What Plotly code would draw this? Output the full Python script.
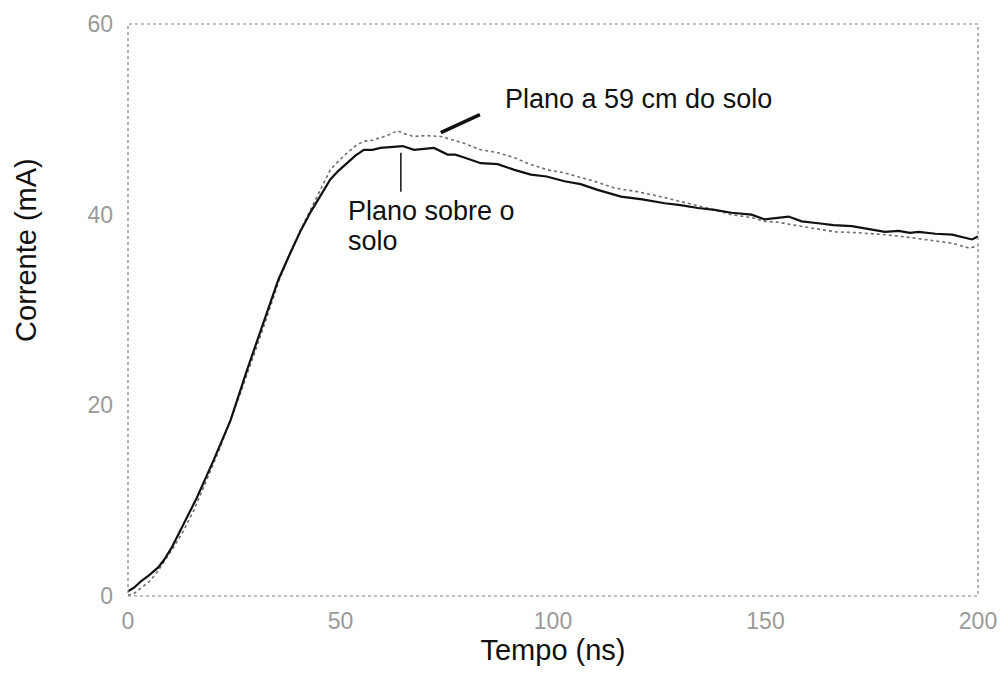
import plotly.graph_objects as go

# Plano sobre o solo (curva contínua)
t_sobre = [0, 1.5, 3.2, 5, 7.1, 8.5, 10.3, 13, 16.2, 20.1, 24.1, 28, 31.9, 35.4, 38, 40.5,
           43, 45.5, 47.6, 49.5, 51.6, 53.5, 55.5, 57.5, 59.4, 62, 64.6, 67.3, 69.5, 72,
           75.2, 77, 79.1, 83, 87, 90.9, 94.8, 98.5, 102.7, 106.5, 110.5, 116, 121, 126.3,
           130, 134.1, 138, 142, 146.7, 149.8, 155.4, 158.5, 162.4, 166, 170.3, 174, 178.1,
           181.3, 184, 186, 190, 193.9, 196.5, 198.6, 200]
i_sobre = [0.5, 0.9, 1.6, 2.2, 3.0, 3.8, 5.1, 7.5, 10.3, 14.2, 18.4, 23.7, 28.6, 33.2, 35.8,
           38.2, 40.3, 42.1, 43.7, 44.6, 45.4, 46.2, 46.8, 46.8, 47.0, 47.1, 47.2, 46.8, 46.9,
           47.0, 46.3, 46.3, 46.0, 45.4, 45.3, 44.7, 44.2, 44.0, 43.5, 43.2, 42.6, 41.9, 41.6,
           41.2, 41.0, 40.7, 40.5, 40.2, 40.0, 39.5, 39.8, 39.3, 39.1, 38.9, 38.8, 38.5, 38.2,
           38.3, 38.1, 38.2, 38.0, 37.9, 37.6, 37.4, 37.7]

# Plano a 59 cm do solo (curva pontilhada)
t_59 = [0, 1.2, 3, 5.2, 7, 9.1, 11, 13, 15.5, 17.8, 21.7, 26.4, 31.9, 35.4, 38, 40.5, 43,
        45.5, 47.6, 49.5, 51.6, 53.5, 55.4, 57.5, 59.4, 61.5, 63.4, 65, 67.2, 70, 73.6, 76,
        79, 83, 87, 90.8, 94.5, 98.8, 102.5, 106.6, 110.5, 114.4, 120, 126.2, 130, 134.2,
        138, 142, 146.7, 149.8, 153, 156.8, 161, 166.3, 172, 178.1, 184, 189.9, 194, 197.9, 200]
i_59 = [0.1, 0.2, 0.8, 1.6, 2.6, 4.0, 5.3, 6.8, 9.0, 11.4, 15.6, 21.2, 28.2, 32.9, 35.8, 38.3,
        40.6, 42.8, 44.7, 45.6, 46.5, 47.2, 47.7, 47.8, 48.1, 48.4, 48.8, 48.5, 48.2, 48.3,
        48.2, 47.9, 47.5, 46.8, 46.5, 46.0, 45.3, 44.7, 44.4, 43.9, 43.4, 42.8, 42.4, 41.8,
        41.4, 40.9, 40.5, 40.0, 39.7, 39.3, 39.2, 38.9, 38.6, 38.2, 38.1, 37.9, 37.6, 37.2,
        37.0, 36.5, 36.7]

x_ticks = [0, 50, 100, 150, 200]
y_ticks = [0, 20, 40, 60]

FONT = "Liberation Sans, Arial, sans-serif"
INK = "#111111"

fig = go.Figure()
fig.add_trace(go.Scatter(x=t_59, y=i_59, mode="lines",
                         line=dict(color="#6e6e6e", width=1.6, dash="dot"),
                         showlegend=False))
fig.add_trace(go.Scatter(x=t_sobre, y=i_sobre, mode="lines",
                         line=dict(color=INK, width=2.2),
                         showlegend=False))

# dotted frame around the plotting area
fig.add_shape(type="rect", xref="paper", yref="paper", x0=0, y0=0, x1=1, y1=1,
              line=dict(color="#808080", width=1.2, dash="dot"))

# pointer lines for the labels
fig.add_shape(type="line", x0=73.6, y0=48.6, x1=82.8, y1=50.5,
              line=dict(color=INK, width=3.5))
fig.add_shape(type="line", x0=64.2, y0=46.5, x1=64.2, y1=42.4,
              line=dict(color=INK, width=1.5))

fig.add_annotation(x=88.2, y=52.1, text="Plano a 59 cm do solo", showarrow=False,
                   xanchor="left", yanchor="middle",
                   font=dict(family=FONT, size=27, color=INK))
fig.add_annotation(x=51.4, y=40.35, text="Plano sobre o", showarrow=False,
                   xanchor="left", yanchor="middle",
                   font=dict(family=FONT, size=27, color=INK))
fig.add_annotation(x=51.4, y=37.2, text="solo", showarrow=False,
                   xanchor="left", yanchor="middle",
                   font=dict(family=FONT, size=27, color=INK))

# y axis title, rotated
fig.add_annotation(xref="paper", yref="paper", x=-0.12, y=0.605, text="Corrente (mA)",
                   textangle=-90, showarrow=False, xanchor="center", yanchor="middle",
                   font=dict(family=FONT, size=29, color=INK))

fig.update_xaxes(range=[0, 200], tickvals=x_ticks, ticks="", showgrid=False,
                 zeroline=False, showline=False, ticklabelstandoff=9,
                 tickfont=dict(family=FONT, size=23, color="#9a9a9a"),
                 title=dict(text="Tempo (ns)", font=dict(family=FONT, size=29, color=INK),
                            standoff=2))
fig.update_yaxes(range=[0, 60], tickvals=y_ticks, ticks="", showgrid=False,
                 zeroline=False, showline=False, ticklabelstandoff=14,
                 tickfont=dict(family=FONT, size=23, color="#9a9a9a"))

fig.update_layout(width=1008, height=675, paper_bgcolor="white", plot_bgcolor="white",
                  margin=dict(l=128, r=30, t=24, b=79))

fig.write_html("out.html")
